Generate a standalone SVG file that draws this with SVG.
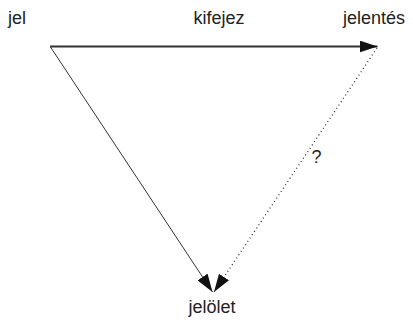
<svg xmlns="http://www.w3.org/2000/svg" width="413" height="320" viewBox="0 0 413 320">
<style>
text{font-family:"Liberation Sans",Arial,sans-serif;font-size:18px;fill:#222}
.c{fill:none;stroke:#333}
</style>
<defs>
<marker id="ah" markerUnits="userSpaceOnUse" markerWidth="18" markerHeight="12" refX="18" refY="6" orient="auto" viewBox="0 0 18 12">
<path d="M0,0 L18,6 L0,12 z" fill="#111"/>
</marker>
</defs>
<rect width="413" height="320" fill="#fff"/>
<g id="connectors">
<path class="c" d="M50,46.5 L377.5,46.5" stroke-width="1.8" marker-end="url(#ah)"/>
<path class="c" d="M50.5,47 L212.5,292" stroke-width="1" marker-end="url(#ah)"/>
<path class="c" d="M377,48 L214,292" stroke-width="1.3" stroke-dasharray="1 3" marker-end="url(#ah)"/>
<text x="311.5" y="163">?</text>
<text x="219" y="24" text-anchor="middle">kifejez</text>
</g>
<g id="jel"><text x="8" y="24">jel</text></g>
<g id="jelentes"><text x="343" y="24">jelentés</text></g>
<g id="jelolet"><text x="212" y="313" text-anchor="middle">jelölet</text></g>
</svg>
